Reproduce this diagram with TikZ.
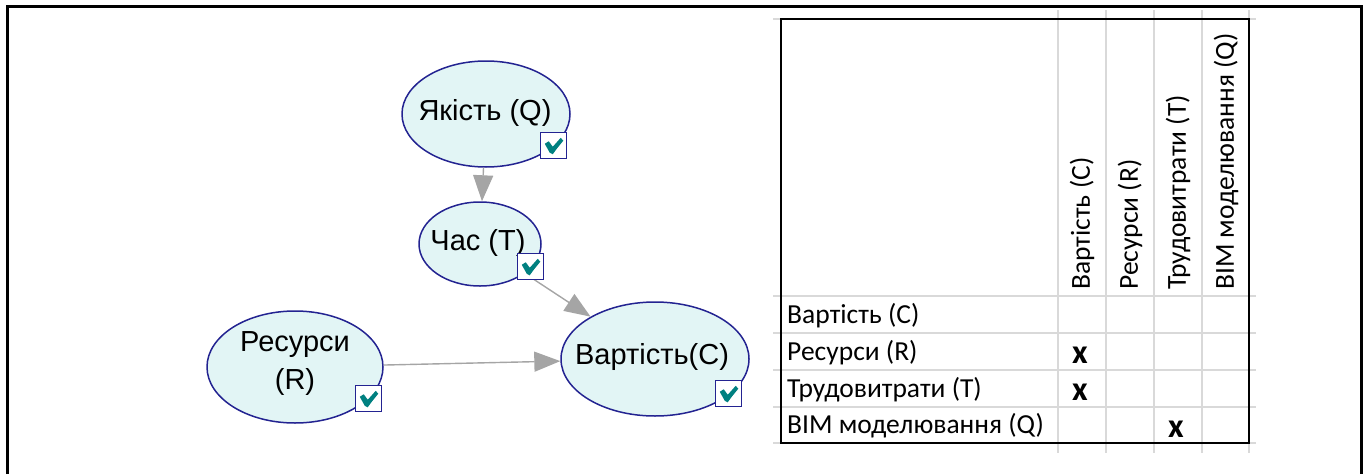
\documentclass[tikz,border=0pt]{standalone}
\usepackage{fontspec}
\setmainfont{Liberation Sans}
\newfontfamily\calib{Carlito}
\usetikzlibrary{shapes.geometric,arrows.meta}
\definecolor{nodefill}{RGB}{226,245,245}
\definecolor{navy}{RGB}{35,35,145}
\definecolor{tealchk}{RGB}{0,128,128}
\definecolor{arrgray}{RGB}{165,165,165}
\definecolor{gridgray}{RGB}{217,217,217}
\begin{document}
\begin{tikzpicture}[x=1pt,y=-1pt,
  bnode/.style={ellipse,draw=navy,fill=nodefill,line width=1.5pt,inner sep=0pt},
  lbl/.style={font=\fontsize{29}{38}\selectfont,inner sep=0pt,anchor=base},
  chkbox/.style={draw=navy,fill=white,line width=1.5pt,minimum size=26pt,inner sep=0pt},
  link/.style={draw=arrgray,line width=1.4pt,-{Triangle[length=26pt,width=20pt]}},
  greencheck/.pic={\fill[tealchk] (5,12) -- (9,9.5) -- (13,15) -- (21,6) -- (23.5,9) -- (17,17) -- (13,22.5) -- (10,21) -- cycle;},
  gridline/.style={draw=gridgray,line width=1.5pt},
  rowlbl/.style={font=\calib\fontsize{27.5}{30}\selectfont,inner sep=0pt,anchor=base west},
  hdr/.style={font=\calib\fontsize{27.5}{30}\selectfont,inner sep=0pt,rotate=90,anchor=west},
  xmark/.style={font=\calib\bfseries\fontsize{34}{36}\selectfont,inner sep=0pt}
]
\useasboundingbox (0,0) rectangle (1367,474);
% outer frame (open at the bottom)
\draw[line width=3pt] (7.5,474) -- (7.5,6) -- (1361,6) -- (1361,474);

% ---- graph ----
\node[bnode,minimum width=168pt,minimum height=106pt] (q) at (486,114) {};
\node[bnode,minimum width=122pt,minimum height=84pt] (t) at (480,244) {};
\node[bnode,minimum width=176pt,minimum height=112pt] (r) at (295,367) {};
\node[bnode,minimum width=188pt,minimum height=114pt] (c) at (655,359) {};

\node[lbl] (qtxt) at (485,120) {Якість (Q)};
\node[lbl] (ttxt) at (478,250) {Час (T)};
\node[lbl,anchor=center,align=center] (rtxt) at (295,363.5) {Ресурси\\(R)};
\node[lbl] (ctxt) at (652,364) {Вартість(C)};

\draw[link] (q) -- (t);
\draw[link] (t) -- (c);
\draw[link] (r) -- (c);

\node[chkbox] (qchk) at (553.5,145.5) {};
\node[chkbox] (tchk) at (530.5,266.5) {};
\node[chkbox] (rchk) at (368.5,398.5) {};
\node[chkbox] (cchk) at (728.5,393.5) {};
\foreach \b in {qchk,tchk,rchk,cchk}
  \pic at (\b.north west) {greencheck};

% ---- table ----
\foreach \yy in {19,296,333,370,407,443}
  \draw[gridline] (773,\yy) -- (1256,\yy);
\foreach \xx in {1058,1106,1154,1202,1249}
  \draw[gridline] (\xx,10) -- (\xx,453);
\draw[line width=2pt] (781,19) rectangle (1249,443);

\node[hdr] (h1) at (1082,290) {Вартість (C)};
\node[hdr] (h2) at (1130,290) {Ресурси (R)};
\node[hdr] (h3) at (1178,290) {Трудовитрати (T)};
\node[hdr] (h4) at (1226,290) {BIM моделювання (Q)};

\node[rowlbl] (r1) at (787,323) {Вартість (C)};
\node[rowlbl] (r2) at (787,360) {Ресурси (R)};
\node[rowlbl] (r3) at (787,397) {Трудовитрати (T)};
\node[rowlbl] (r4) at (787,433) {BIM моделювання (Q)};

\node[xmark] (m1) at (1080,355) {x};
\node[xmark] (m2) at (1080,392) {x};
\node[xmark] (m3) at (1176,429) {x};
\end{tikzpicture}
\end{document}
